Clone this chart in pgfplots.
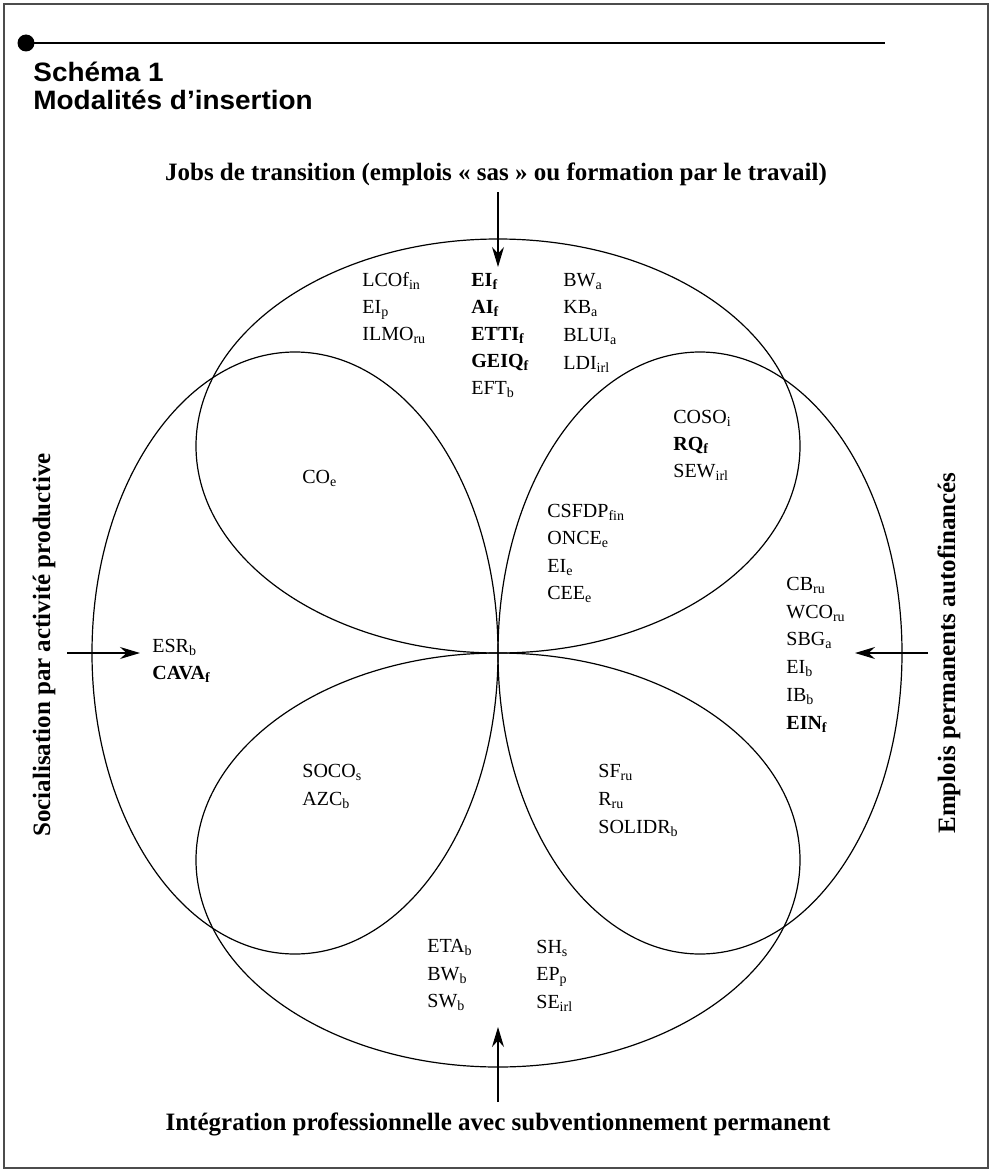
\documentclass[border=0pt]{standalone}
\usepackage{fontspec}
\setmainfont{Liberation Serif}
\newfontfamily\titlefont[FakeStretch=1.05]{Liberation Sans}
\usepackage{pgfplots}
\pgfplotsset{compat=1.18}
\usetikzlibrary{arrows.meta}
\newcommand{\lab}{\fontsize{10}{12}\selectfont}
\newcommand{\hd}{\fontsize{12.5}{14}\selectfont\bfseries}
\newcommand{\s}[1]{\textsubscript{#1}}
\begin{document}
\begin{tikzpicture}
\begin{axis}[width=495.5pt,height=586pt,scale only axis,
  xmin=0,xmax=991,ymin=0,ymax=1172,y dir=reverse,hide axis,clip=false]
\path (axis cs:0,0) rectangle (axis cs:991,1172);
% frame
\draw[line width=0.8pt, black!70] (axis cs:4,4) rectangle (axis cs:988,1168);
% top rule and dot
\draw[line width=0.75pt] (axis cs:26,43) -- (axis cs:885,43);
\fill (axis cs:26,43) circle[radius=8.5];
% title
\node[anchor=base west,inner sep=0pt,font=\titlefont\bfseries\fontsize{13.3}{15}\selectfont] at (axis cs:33,82) {Schéma 1};
\node[anchor=base west,inner sep=0pt,font=\titlefont\bfseries\fontsize{13.3}{15}\selectfont] at (axis cs:33,110) {Modalités d’insertion};
% headings
\node[anchor=base,font=\hd] at (axis cs:496,180) {Jobs de transition (emplois « sas » ou formation par le travail)};
\node[anchor=base,font=\hd] at (axis cs:498,1130) {Intégration professionnelle avec subventionnement permanent};
\node[anchor=base,rotate=90,font=\hd] at (axis cs:50,645) {Socialisation par activité productive};
\node[anchor=base,rotate=90,font=\hd] at (axis cs:955,653) {Emplois permanents autofinancés};
% ellipses
\draw[line width=0.6pt] (axis cs:498,446) ellipse[x radius=302, y radius=207];
\draw[line width=0.6pt] (axis cs:498,860) ellipse[x radius=302, y radius=207];
\draw[line width=0.6pt] (axis cs:295,653) ellipse[x radius=203, y radius=301];
\draw[line width=0.6pt] (axis cs:700,653) ellipse[x radius=202, y radius=301];
% arrows
\draw[-{Stealth[length=10pt,width=6pt]}, line width=0.6pt] (axis cs:498,192) -- (axis cs:498,267);
\draw[-{Stealth[length=10pt,width=6pt]}, line width=0.6pt] (axis cs:498,1102) -- (axis cs:498,1027);
\draw[-{Stealth[length=10pt,width=6pt]}, line width=0.6pt] (axis cs:67,653) -- (axis cs:140,653);
\draw[-{Stealth[length=10pt,width=6pt]}, line width=0.6pt] (axis cs:928,653) -- (axis cs:855,653);
% labels
\begin{scope}[every node/.style={anchor=base west,font=\lab,inner sep=0pt}]
\node at (axis cs:362,286) {LCOf\s{in}};
\node at (axis cs:362,313) {EI\s{p}};
\node at (axis cs:362,340) {ILMO\s{ru}};
\node at (axis cs:471,286) {\textbf{EI\s{f}}};
\node at (axis cs:471,313) {\textbf{AI\s{f}}};
\node at (axis cs:471,340) {\textbf{ETTI\s{f}}};
\node at (axis cs:471,367) {\textbf{GEIQ\s{f}}};
\node at (axis cs:471,394) {EFT\s{b}};
\node at (axis cs:563,286) {BW\s{a}};
\node at (axis cs:563,313) {KB\s{a}};
\node at (axis cs:563,341) {BLUI\s{a}};
\node at (axis cs:563,369) {LDI\s{irl}};
\node at (axis cs:673,423) {COSO\s{i}};
\node at (axis cs:673,450) {\textbf{RQ\s{f}}};
\node at (axis cs:673,477) {SEW\s{irl}};
\node at (axis cs:547,517) {CSFDP\s{fin}};
\node at (axis cs:547,544) {ONCE\s{e}};
\node at (axis cs:547,572) {EI\s{e}};
\node at (axis cs:547,599) {CEE\s{e}};
\node at (axis cs:786,590) {CB\s{ru}};
\node at (axis cs:786,618) {WCO\s{ru}};
\node at (axis cs:786,645) {SBG\s{a}};
\node at (axis cs:786,673) {EI\s{b}};
\node at (axis cs:786,701) {IB\s{b}};
\node at (axis cs:786,729) {\textbf{EIN\s{f}}};
\node at (axis cs:302,483) {CO\s{e}};
\node at (axis cs:152,652) {ESR\s{b}};
\node at (axis cs:152,679) {\textbf{CAVA\s{f}}};
\node at (axis cs:302,777) {SOCO\s{s}};
\node at (axis cs:302,805) {AZC\s{b}};
\node at (axis cs:598,777) {SF\s{ru}};
\node at (axis cs:598,805) {R\s{ru}};
\node at (axis cs:598,833) {SOLIDR\s{b}};
\node at (axis cs:427,952) {ETA\s{b}};
\node at (axis cs:427,980) {BW\s{b}};
\node at (axis cs:427,1007) {SW\s{b}};
\node at (axis cs:536,953) {SH\s{s}};
\node at (axis cs:536,980) {EP\s{p}};
\node at (axis cs:536,1008) {SE\s{irl}};
\end{scope}
\end{axis}
\end{tikzpicture}
\end{document}
